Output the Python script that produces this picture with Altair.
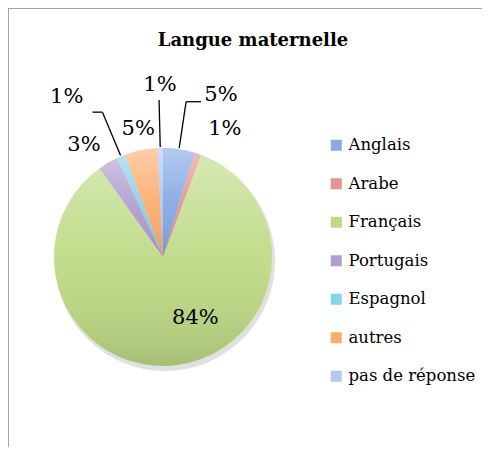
import altair as alt
import pandas as pd

TITLE = "Langue maternelle"
CATEGORIES = ["Anglais", "Arabe", "Français", "Portugais", "Espagnol", "autres", "pas de réponse"]
SHARES = [4.7, 1.0, 84.4, 3.0, 1.2, 4.9, 0.8]
LABELS = ["5%", "1%", "84%", "3%", "1%", "5%", "1%"]
COLORS = ["#86AAE4", "#E79292", "#BEDA85", "#B09ED0", "#86D3EC", "#FCAE72", "#B0C9EF"]

# label layout (as placed in the original): angle from 12 o'clock in degrees, distance from centre in px
LABEL_ANGLE = [19.7, 25.8, 152.0, 324.8, 329.0, 349.0, 359.0]
LABEL_DIST = [172, 142, 69, 137, 187, 130, 172]
HAS_LEADER = [1, 0, 0, 0, 1, 0, 1]
LEADER_TAIL = [15, 0, 0, 0, -10, 0, 0]

CX, CY, R = 155, 249, 109
FONT = "DejaVu Serif"

df = pd.DataFrame({
    "cat": CATEGORIES,
    "share": SHARES,
    "label": LABELS,
    "idx": list(range(len(CATEGORIES))),
    "la": LABEL_ANGLE,
    "ld": LABEL_DIST,
    "lead": HAS_LEADER,
    "tail": LEADER_TAIL,
})

base = alt.Chart(df)

shadow = alt.Chart(pd.DataFrame({"s": [1]})).mark_arc(
    theta=0, theta2=6.2832, radius=R + 1, fill="#000000", opacity=0.12
).encode(x=alt.value(CX + 2), y=alt.value(CY + 4))

pie = base.mark_arc(radius=R).encode(
    theta=alt.Theta("share:Q", stack=True),
    order=alt.Order("idx:Q"),
    color=alt.Color(
        "cat:N",
        scale=alt.Scale(domain=CATEGORIES, range=COLORS),
        legend=alt.Legend(title=None),
    ),
    x=alt.value(CX),
    y=alt.value(CY),
)

gloss = base.mark_arc(
    radius=R,
    fill=alt.LinearGradient(
        gradient="linear",
        stops=[
            alt.GradientStop(color="rgba(255,255,255,0.38)", offset=0),
            alt.GradientStop(color="rgba(255,255,255,0.05)", offset=0.5),
            alt.GradientStop(color="rgba(0,0,0,0.12)", offset=1),
        ],
        x1=0, x2=0, y1=0, y2=1,
    ),
).encode(
    theta=alt.Theta("share:Q", stack=True),
    order=alt.Order("idx:Q"),
    x=alt.value(CX),
    y=alt.value(CY),
)

labels = base.transform_calculate(
    lx=f"{CX} + datum.ld * sin(datum.la * PI / 180)",
    ly=f"{CY} - datum.ld * cos(datum.la * PI / 180)",
).mark_text(font=FONT, fontSize=21, color="#000000", baseline="middle", align="center").encode(
    x=alt.X("lx:Q", scale=None, axis=None),
    y=alt.Y("ly:Q", scale=None, axis=None),
    text="label:N",
)

lead_base = base.transform_window(
    cum="sum(share)", sort=[alt.SortField("idx")]
).transform_joinaggregate(
    tot="sum(share)"
).transform_filter(
    "datum.lead == 1"
).transform_calculate(
    mid="(datum.cum - datum.share / 2) / datum.tot * 2 * PI"
).transform_calculate(
    ax=f"{CX} + {R + 1} * sin(datum.mid)",
    ay=f"{CY} - {R + 1} * cos(datum.mid)",
    bx=f"{CX} + 157 * sin(datum.mid)",
    by=f"{CY} - 157 * cos(datum.mid)",
).transform_calculate(
    cx2="datum.bx + datum.tail"
)

leader1 = lead_base.mark_rule(color="#000000", strokeWidth=1.3).encode(
    x=alt.X("ax:Q", scale=None, axis=None),
    y=alt.Y("ay:Q", scale=None, axis=None),
    x2="bx:Q",
    y2="by:Q",
)
leader2 = lead_base.mark_rule(color="#000000", strokeWidth=1.3).encode(
    x=alt.X("bx:Q", scale=None, axis=None),
    y=alt.Y("by:Q", scale=None, axis=None),
    x2="cx2:Q",
    y2="by:Q",
)

title = alt.Chart(pd.DataFrame({"t": [TITLE]})).mark_text(
    font=FONT, fontSize=18, fontWeight="bold", color="#000000", baseline="middle", align="center"
).encode(text="t:N", x=alt.value(245), y=alt.value(33))

frame_left = alt.Chart(pd.DataFrame({"s": [1]})).mark_rule(color="#A6A6A6", strokeWidth=2).encode(
    x=alt.value(0), y=alt.value(0), y2=alt.value(439)
)
frame_top = alt.Chart(pd.DataFrame({"s": [1]})).mark_rule(color="#A6A6A6", strokeWidth=2).encode(
    x=alt.value(0), x2=alt.value(474), y=alt.value(0)
)

chart = alt.layer(
    shadow, pie, gloss, leader1, leader2, labels, title, frame_left, frame_top
).properties(
    width=474, height=439, autosize=alt.AutoSizeParams(type="none"), padding=0,
    background="white",
).configure_view(stroke=None).configure_legend(
    orient="none", legendX=320, legendY=129,
    symbolType="square", symbolSize=121, symbolStrokeWidth=0,
    labelFont=FONT, labelFontSize=16.5, labelColor="#000000",
    rowPadding=21.5, labelOffset=4, padding=0,
)

chart.save("out.html", embed_options={"renderer": "svg", "actions": False})
